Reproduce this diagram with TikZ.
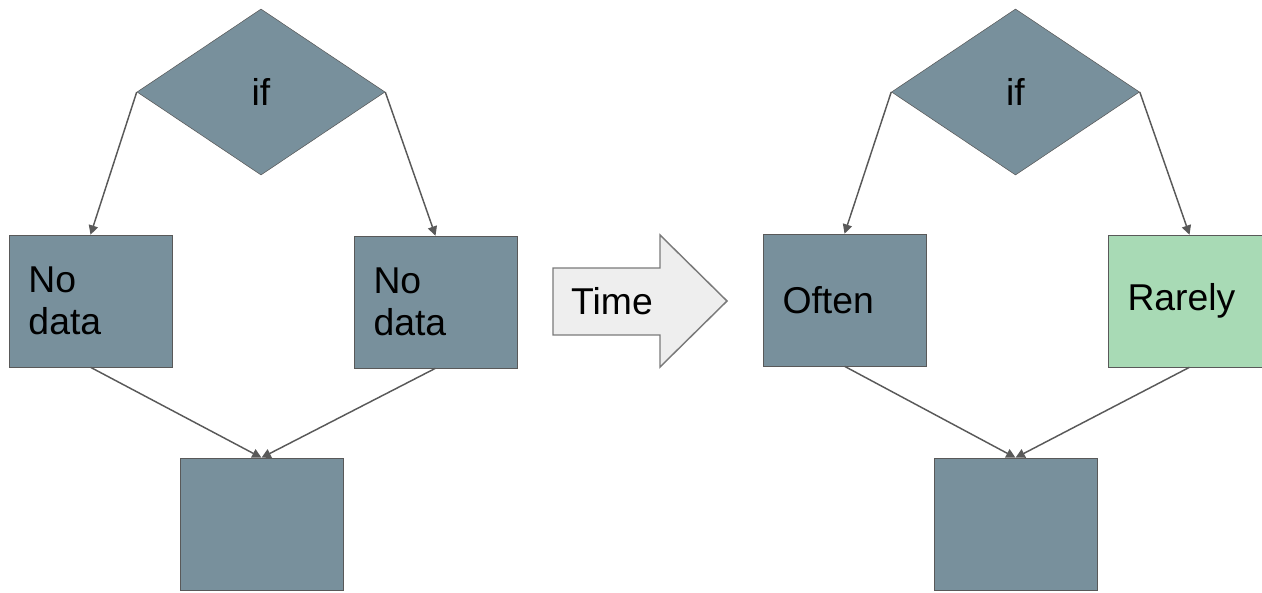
\documentclass[tikz,border=0pt]{standalone}
\usepackage{fontspec}
\setmainfont{Liberation Sans}
\usepackage{tikz}
\usetikzlibrary{shapes.geometric, arrows.meta, positioning}

\definecolor{slate}{HTML}{78909C}
\definecolor{mint}{HTML}{A8DAB5}
\definecolor{edge}{HTML}{595959}
\definecolor{pale}{HTML}{EEEEEE}

\begin{document}
\begin{tikzpicture}[
  x=0.75pt, y=-0.75pt,
  cond/.style={draw=edge, fill=slate, shape=diamond, aspect=1.5, inner sep=0pt,
    minimum width=186pt, minimum height=124.5pt, font=\fontsize{28}{33}\selectfont},
  block/.style={draw=edge, fill=slate, minimum width=122.25pt, minimum height=99pt,
    text width=93pt, align=left, inner xsep=0pt, font=\fontsize{28}{32}\selectfont},
  arrow/.style={-{Triangle[length=7pt, width=7pt]}, draw=edge, line width=1.1pt},
  timearrow/.style={draw=edge!80, fill=pale, line width=1.1pt}
]
  \useasboundingbox (0,0) rectangle (1262,592);

  % before
  \node[cond] (ifl) at (261,92) {if};
  \node[block] (nodata1) at (90.5,301) {No\\data};
  \node[block] (nodata2) at (435.5,302) {No\\data};
  \node[block] (joinl) at (261.5,524) {};

  \draw[arrow] (ifl.west) -- (nodata1.north);
  \draw[arrow] (ifl.east) -- (nodata2.north);
  \draw[arrow] (nodata1.south) -- (joinl.north);
  \draw[arrow] (nodata2.south) -- (joinl.north);

  % time
  \draw[timearrow] (553,268) -- (660,268) -- (660,235) -- (727,301)
    -- (660,367) -- (660,335) -- (553,335) -- cycle;
  \node[font=\fontsize{28}{33}\selectfont] (time) at (612,301) {Time};

  % after
  \node[cond] (ifr) at (1015.5,92) {if};
  \node[block] (often) at (844.5,300) {Often};
  \node[block, fill=mint] (rarely) at (1189.5,301) {Rarely};
  \node[block] (joinr) at (1015.5,524) {};

  \draw[arrow] (ifr.west) -- (often.north);
  \draw[arrow] (ifr.east) -- (rarely.north);
  \draw[arrow] (often.south) -- (joinr.north);
  \draw[arrow] (rarely.south) -- (joinr.north);
\end{tikzpicture}
\end{document}
